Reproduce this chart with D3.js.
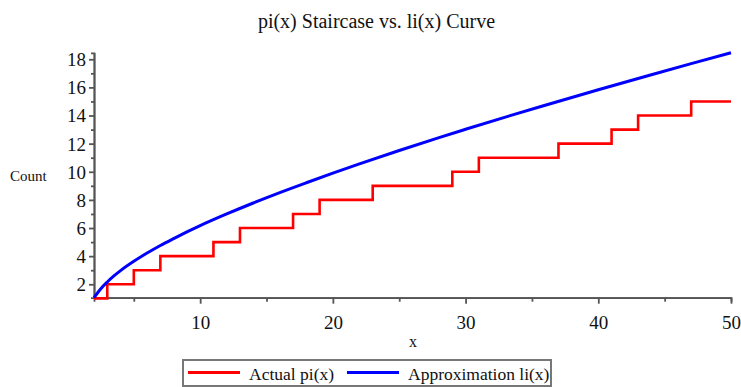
<!DOCTYPE html>
<html lang="en">
<head>
    <meta charset="UTF-8">
    <title>pi(x) vs li(x)</title>
    <script src="https://cdn.jsdelivr.net/npm/d3@7"></script>
    <style>
        body { margin: 0; background: #fff; }
        text { font-family: "Liberation Serif", "Times New Roman", serif; fill: #111; }
    </style>
</head>
<body>
<script>
    // staircase: pi(x) jumps at each prime, value holds until the next one
    const stepX = [2, 3, 5, 7, 11, 13, 17, 19, 23, 29, 31, 37, 41, 43, 47, 50]
    const stepY = [1, 2, 3, 4, 5, 6, 7, 8, 9, 10, 11, 12, 13, 14, 15, 15]

    // li(x) curve, values
    const liX = [2, 2.5, 3, 3.5, 4, 5, 6, 7, 8, 9, 10, 12, 14, 16, 18, 20, 22, 25, 28, 30, 33, 36, 40, 44, 47, 50]
    const liY = [1.045, 1.67, 2.16, 2.59, 2.97, 3.63, 4.22, 4.76, 5.25, 5.72, 6.17, 7.0, 7.78, 8.52, 9.22, 9.9,
        10.56, 11.51, 12.43, 13.02, 13.89, 14.73, 15.83, 16.9, 17.69, 18.46]

    const xMajor = [10, 20, 30, 40, 50]
    const xMinor = [5, 15, 25, 35, 45]
    const yMajor = [2, 4, 6, 8, 10, 12, 14, 16, 18]
    const yMinor = [3, 5, 7, 9, 11, 13, 15, 17]

    const legendLabels = ['Actual pi(x)', 'Approximation li(x)']
    const colors = ['#ff0000', '#0000ff']

    const [width, height] = [741, 387]
    const svg = d3.select('body').append('svg')
        .attr('width', width)
        .attr('height', height)

    const x = d3.scaleLinear().domain(d3.extent(liX)).range([94, 731])
    const y = d3.scaleLinear().domain(d3.extent(liY)).range([297.7, 52.8])

    const axisColor = '#555'

    // minor ticks first, then the main axes on top
    svg.append('g').attr('transform', `translate(0, ${y.range()[0]})`)
        .call(d3.axisBottom(x).tickValues(xMinor).tickSize(4).tickFormat(''))
    svg.append('g').attr('transform', `translate(${x.range()[0]}, 0)`)
        .call(d3.axisLeft(y).tickValues(yMinor).tickSize(3).tickFormat(''))

    const xAxis = svg.append('g').attr('transform', `translate(0, ${y.range()[0]})`)
        .call(d3.axisBottom(x).tickValues(xMajor).tickSize(6).tickPadding(12).tickSizeOuter(0))
    const yAxis = svg.append('g').attr('transform', `translate(${x.range()[0]}, 0)`)
        .call(d3.axisLeft(y).tickValues(yMajor).tickSize(5).tickPadding(3).tickSizeOuter(0))

    svg.selectAll('.domain, .tick line')
        .attr('stroke', axisColor)
        .attr('stroke-width', 1.8)
    svg.selectAll('.tick text')
        .attr('font-family', '"Liberation Serif", serif')
        .attr('font-size', 19)
        .attr('fill', '#111')
    yAxis.selectAll('.tick text').attr('dy', '0.34em')

    // curves
    const stepLine = d3.line()
        .x((d, i) => x(stepX[i]))
        .y((d, i) => y(stepY[i]))
        .curve(d3.curveStepAfter)
    svg.append('path')
        .datum(stepX)
        .attr('fill', 'none')
        .attr('stroke', colors[0])
        .attr('stroke-width', 2.6)
        .attr('d', stepLine)

    const liLine = d3.line()
        .x((d, i) => x(liX[i]))
        .y((d, i) => y(liY[i]))
        .curve(d3.curveMonotoneX)
    svg.append('path')
        .datum(liX)
        .attr('fill', 'none')
        .attr('stroke', colors[1])
        .attr('stroke-width', 3)
        .attr('d', liLine)

    // titles
    svg.append('text')
        .attr('x', 376.5).attr('y', 28)
        .attr('text-anchor', 'middle')
        .attr('font-size', 20)
        .text('pi(x) Staircase vs. li(x) Curve')
    svg.append('text')
        .attr('x', 10).attr('y', 181)
        .attr('font-size', 15)
        .text('Count')
    svg.append('text')
        .attr('x', 413).attr('y', 346.5)
        .attr('text-anchor', 'middle')
        .attr('font-size', 16)
        .text('x')

    // legend
    const legend = svg.append('g')
    legend.append('rect')
        .attr('x', 183).attr('y', 360)
        .attr('width', 368).attr('height', 26)
        .attr('fill', '#fff')
        .attr('stroke', '#777')
        .attr('stroke-width', 2)
    const items = [{x: 188}, {x: 347}]
    items.forEach((it, i) => {
        legend.append('line')
            .attr('x1', it.x).attr('x2', it.x + 52)
            .attr('y1', 372.5).attr('y2', 372.5)
            .attr('stroke', colors[i])
            .attr('stroke-width', 3)
        legend.append('text')
            .attr('x', it.x + 61).attr('y', 380)
            .attr('font-size', 17.5)
            .text(legendLabels[i])
    })
</script>
</body>
</html>
